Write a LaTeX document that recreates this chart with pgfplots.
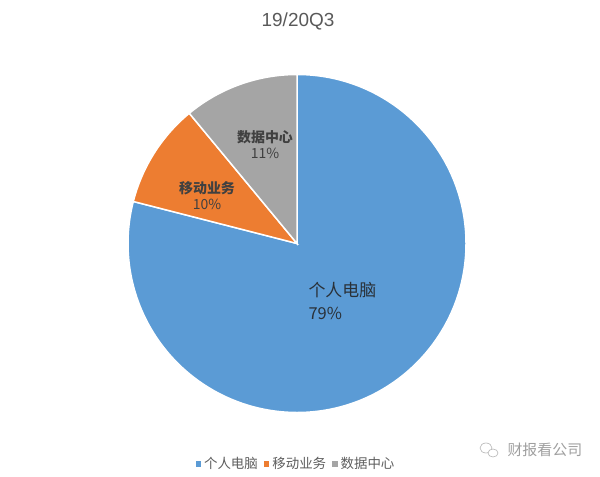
\documentclass[border=0pt]{standalone}
\usepackage{fontspec}
\setmainfont{Liberation Sans}
\newfontfamily\cjk{Noto Sans CJK SC}
\usepackage{pgfplots}
\pgfplotsset{compat=1.18}

\definecolor{pcblue}{HTML}{5B9BD5}
\definecolor{mborange}{HTML}{ED7D31}
\definecolor{dcgray}{HTML}{A5A5A5}
\definecolor{titlegray}{HTML}{595959}
\definecolor{labelgray}{HTML}{404040}

% shares of revenue, 19/20Q3 (percent)
\def\pcshare{79}
\def\mbshare{10}
\def\dcshare{11}

\begin{document}
\begin{tikzpicture}
\begin{axis}[
    width=600bp, height=476bp, scale only axis,
    xmin=0, xmax=600, ymin=0, ymax=476,
    hide axis, clip=false,
    legend columns=3,
    legend style={at={(axis cs:296,12)}, anchor=center, draw=none, fill=none,
        font=\cjk\fontsize{13.5}{15}\selectfont, text=labelgray!85,
        /tikz/every even column/.append style={column sep=4bp},
        /tikz/every odd column/.append style={column sep=1bp}},
    legend image code/.code={\fill[#1, draw=none] (0bp,-2.5bp) rectangle (5.5bp,3bp);},
]
% keep the full canvas
\path[draw=none] (axis cs:0,0) rectangle (axis cs:600,476);

% sectors, clockwise from 12 o'clock
\pgfmathsetmacro{\aA}{90}
\pgfmathsetmacro{\aB}{90-\pcshare*3.6}
\pgfmathsetmacro{\aC}{\aB-\mbshare*3.6}
\pgfmathsetmacro{\aD}{\aC-\dcshare*3.6}
\fill[pcblue, draw=white, line width=1.5pt]
    (axis cs:297,232.5) -- (axis cs:{297+169*cos(\aA)},{232.5+169*sin(\aA)})
    arc[start angle=\aA, end angle=\aB, radius=169] -- cycle;
\fill[mborange, draw=white, line width=1.5pt]
    (axis cs:297,232.5) -- (axis cs:{297+169*cos(\aB)},{232.5+169*sin(\aB)})
    arc[start angle=\aB, end angle=\aC, radius=169] -- cycle;
\fill[dcgray, draw=white, line width=1.5pt]
    (axis cs:297,232.5) -- (axis cs:{297+169*cos(\aC)},{232.5+169*sin(\aC)})
    arc[start angle=\aC, end angle=\aD, radius=169] -- cycle;

\addlegendimage{fill=pcblue}
\addlegendentry{个人电脑}
\addlegendimage{fill=mborange}
\addlegendentry{移动业务}
\addlegendimage{fill=dcgray}
\addlegendentry{数据中心}

% data labels
\node[anchor=west, text=labelgray!80!pcblue!60!black, font=\cjk\fontsize{17}{19}\selectfont]
    at (axis cs:305,186) {个人电脑};
\node[anchor=west, text=labelgray!80!pcblue!60!black, font=\cjk\fontsize{16.5}{19}\selectfont]
    at (axis cs:305,163) {\pcshare\%};
\node[text=labelgray, font=\cjk\bfseries\fontsize{14}{16}\selectfont]
    at (axis cs:207,288) {移动业务};
\node[text=labelgray, font=\cjk\fontsize{14}{16}\selectfont]
    at (axis cs:207,272) {\mbshare\%};
\node[text=labelgray, font=\cjk\bfseries\fontsize{14}{16}\selectfont]
    at (axis cs:265,339) {数据中心};
\node[text=labelgray, font=\cjk\fontsize{14}{16}\selectfont]
    at (axis cs:265,323) {\dcshare\%};

% title
\node[text=titlegray, font=\fontsize{19}{22}\selectfont] at (axis cs:298,455) {19/20Q3};

% watermark
\draw[gray!60, line width=0.6pt] (axis cs:486,28) ellipse[x radius=6, y radius=5];
\draw[gray!60, line width=0.6pt, fill=white] (axis cs:493,23) ellipse[x radius=5, y radius=4];
\node[anchor=west, text=gray!75, font=\cjk\fontsize{15}{17}\selectfont] at (axis cs:504,26) {财报看公司};
\end{axis}
\end{tikzpicture}
\end{document}
